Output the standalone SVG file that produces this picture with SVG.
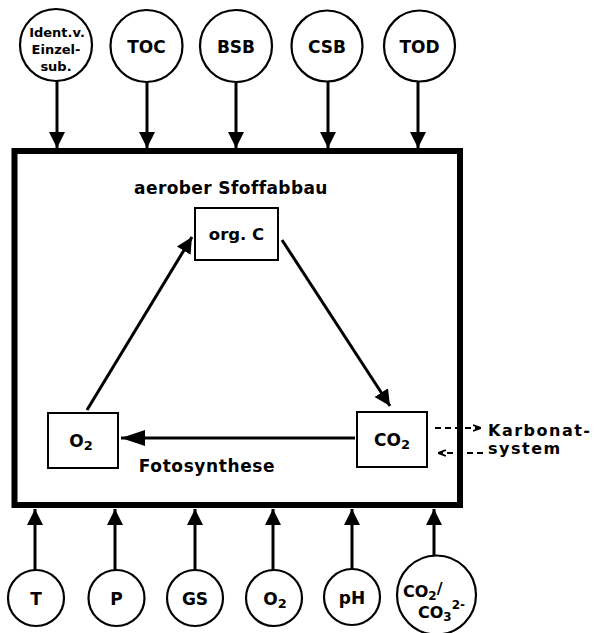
<svg xmlns="http://www.w3.org/2000/svg" width="594" height="633" viewBox="0 0 594 633">
<defs>
<style>
.c{fill:#fff;stroke:#000;stroke-width:2.2}
.b{fill:#fff;stroke:#000;stroke-width:2}
.t{font-family:"DejaVu Sans","Liberation Sans",sans-serif;font-weight:bold;fill:#000;text-anchor:middle}
.s{font-family:"DejaVu Sans","Liberation Sans",sans-serif;font-weight:bold;fill:#000;text-anchor:start}
.l{stroke:#000;stroke-width:3;fill:none}
.d{stroke:#000;stroke-width:2;fill:none;stroke-dasharray:6,4}
</style>
<marker id="ah" viewBox="0 0 16 24" refX="16" refY="12" markerWidth="16" markerHeight="24" markerUnits="userSpaceOnUse" orient="auto">
<path d="M0,4 L16,12 L0,20 Z" fill="#000"/>
</marker>
<marker id="ov" viewBox="0 0 24 16" refX="24" refY="8" markerWidth="24" markerHeight="16" markerUnits="userSpaceOnUse" orient="auto">
<path d="M0,0 L24,8 L0,16 Z" fill="#000"/>
</marker>
<marker id="oa" viewBox="0 0 8 8" refX="8" refY="4" markerWidth="8" markerHeight="8" markerUnits="userSpaceOnUse" orient="auto">
<path d="M0,1 L8,4 L0,7" fill="none" stroke="#000" stroke-width="1.8"/>
</marker>
</defs>
<rect width="594" height="633" fill="#fff"/>
<g id="system">
<rect x="14.5" y="151" width="445.5" height="354" fill="none" stroke="#000" stroke-width="6"/>
<text class="t" x="231" y="194" font-size="17" letter-spacing="0.4">aerober  Sfoffabbau</text>
<text class="t" x="207" y="472" font-size="17" letter-spacing="0.6">Fotosynthese</text>
</g>
<g id="orgC"><rect class="b" x="195" y="208" width="83" height="52"/><text class="t" x="236.5" y="240" font-size="16.5">org. C</text></g>
<g id="O2box"><rect class="b" x="48" y="413" width="70" height="55"/><text class="t" x="81" y="447" font-size="17">O<tspan font-size="13" dy="3">2</tspan></text></g>
<g id="CO2box"><rect class="b" x="357" y="412" width="70" height="55"/><text class="t" x="392" y="446" font-size="17">CO<tspan font-size="13" dy="3">2</tspan></text></g>
<g id="ident"><circle class="c" cx="56" cy="45" r="36"/>
<text class="t" font-size="13"><tspan x="57" y="37">Ident.v.</tspan><tspan x="56" y="54">Einzel-</tspan><tspan x="56" y="71">sub.</tspan></text></g>
<g id="TOC"><circle class="c" cx="146.5" cy="46" r="36"/><text class="t" x="146.5" y="53" font-size="17">TOC</text></g>
<g id="BSB"><circle class="c" cx="236" cy="46" r="36"/><text class="t" x="236" y="53" font-size="17">BSB</text></g>
<g id="CSB"><circle class="c" cx="327" cy="46" r="35.5"/><text class="t" x="327" y="53" font-size="17">CSB</text></g>
<g id="TOD"><circle class="c" cx="419.5" cy="46" r="35.5"/><text class="t" x="419.5" y="53" font-size="17">TOD</text></g>
<g id="T"><circle class="c" cx="36" cy="598" r="28"/><text class="t" x="36" y="605" font-size="17">T</text></g>
<g id="P"><circle class="c" cx="116.5" cy="598" r="28"/><text class="t" x="116.5" y="605" font-size="17">P</text></g>
<g id="GS"><circle class="c" cx="195" cy="598" r="28"/><text class="t" x="195" y="605" font-size="17">GS</text></g>
<g id="O2"><circle class="c" cx="274" cy="598" r="28"/><text class="t" x="275" y="605" font-size="17">O<tspan font-size="13" dy="3">2</tspan></text></g>
<g id="pH"><circle class="c" cx="352" cy="597" r="28"/><text class="t" x="352" y="604" font-size="17">pH</text></g>
<g id="CO2CO3"><circle class="c" cx="436.5" cy="595" r="39.5"/>
<text class="s" font-size="16"><tspan x="403" y="597">CO</tspan><tspan font-size="12" dy="3">2</tspan><tspan dy="-6">/</tspan><tspan x="418" y="618">CO</tspan><tspan font-size="12" dy="3">3</tspan><tspan font-size="12" dy="-12">2-</tspan></text></g>
<g id="connectors">
<line class="l" x1="57" y1="81" x2="57" y2="148" marker-end="url(#ah)"/>
<line class="l" x1="147" y1="82" x2="147" y2="148" marker-end="url(#ah)"/>
<line class="l" x1="236" y1="82" x2="236" y2="148" marker-end="url(#ah)"/>
<line class="l" x1="328" y1="82" x2="328" y2="148" marker-end="url(#ah)"/>
<line class="l" x1="418" y1="82" x2="418" y2="148" marker-end="url(#ah)"/>
<line class="l" x1="35" y1="570" x2="35" y2="509" marker-end="url(#ah)"/>
<line class="l" x1="115" y1="570" x2="115" y2="509" marker-end="url(#ah)"/>
<line class="l" x1="195" y1="570" x2="195" y2="509" marker-end="url(#ah)"/>
<line class="l" x1="273" y1="570" x2="273" y2="509" marker-end="url(#ah)"/>
<line class="l" x1="352" y1="569" x2="352" y2="509" marker-end="url(#ah)"/>
<line class="l" x1="434" y1="556" x2="434" y2="509" marker-end="url(#ah)"/>
<line class="l" x1="87" y1="410" x2="192" y2="237" marker-end="url(#ah)"/>
<line class="l" x1="282" y1="240" x2="390" y2="406" marker-end="url(#ah)"/>
<line class="l" x1="355" y1="438" x2="121" y2="438" marker-end="url(#ov)"/>
<line class="d" x1="435" y1="428" x2="481" y2="428" marker-end="url(#oa)"/>
<line class="d" x1="483" y1="453" x2="438" y2="453" marker-end="url(#oa)"/>
</g>
<g id="karbonat">
<text class="s" font-size="16" letter-spacing="1.5"><tspan x="488" y="436">Karbonat-</tspan><tspan x="488" y="454">system</tspan></text>
</g>
</svg>
